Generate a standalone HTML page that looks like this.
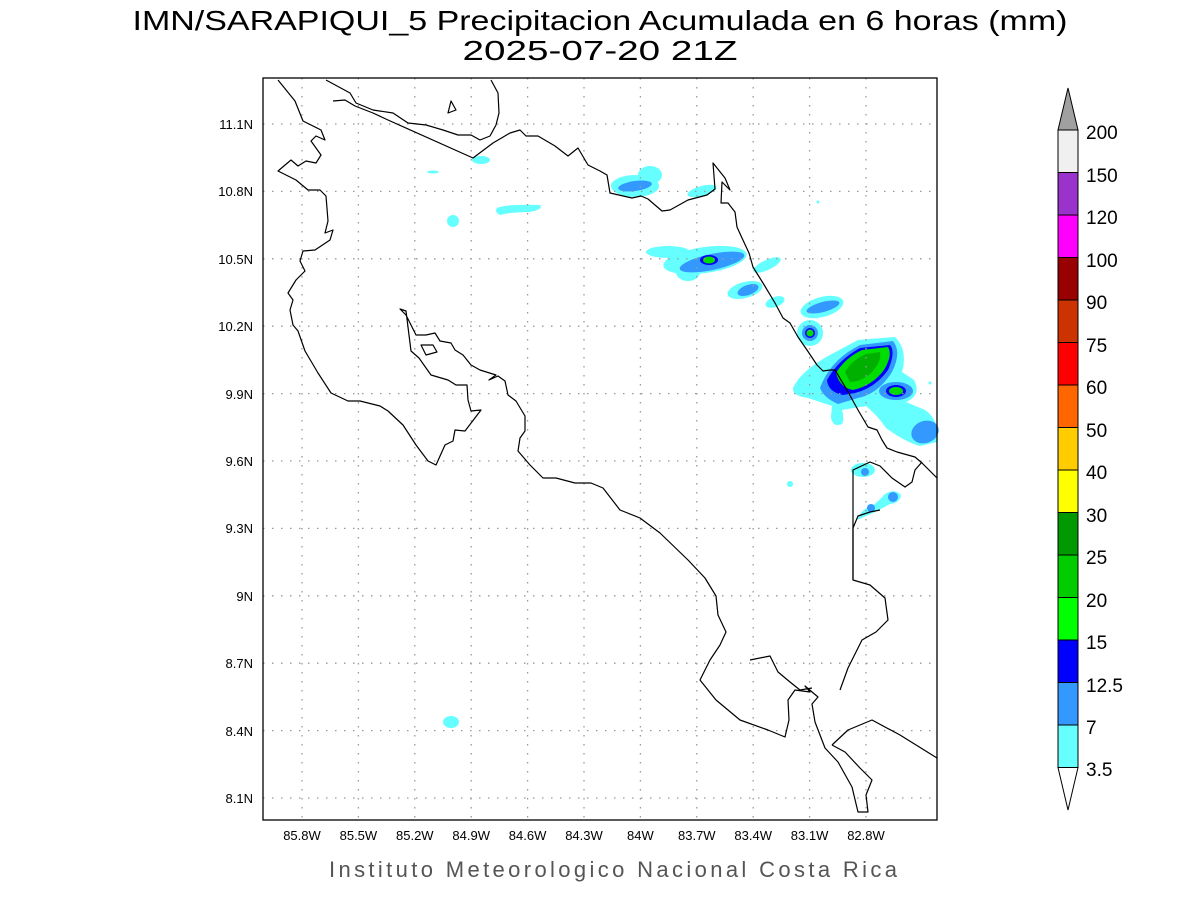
<!DOCTYPE html>
<html><head><meta charset="utf-8"><style>
html,body{margin:0;padding:0;background:#fff;}
svg{display:block;font-family:"Liberation Sans",sans-serif;}
</style></head><body>
<svg width="1200" height="900" viewBox="0 0 1200 900" xmlns="http://www.w3.org/2000/svg">
<rect width="1200" height="900" fill="#fff"/>
<text x="600" y="30" font-size="28" text-anchor="middle" fill="#000" textLength="935" lengthAdjust="spacingAndGlyphs">IMN/SARAPIQUI_5 Precipitacion Acumulada en 6 horas (mm)</text>
<text x="600" y="60" font-size="28" text-anchor="middle" fill="#000" textLength="275" lengthAdjust="spacingAndGlyphs">2025-07-20 21Z</text>

<!-- precip -->
<g>
<g fill="#66ffff">
<path d="M793 388 Q800 372 828 356 L858 340 L895 337 Q908 350 902 372 L914 380 Q922 395 906 402 L925 410 Q940 420 937 442 L920 446 Q905 442 886 428 Q878 416 866 406 L842 410 Q846 428 837 424 Q830 418 832 406 L808 398 Q792 396 793 388Z"/>
<ellipse cx="635" cy="186" rx="24" ry="11"/><ellipse cx="650" cy="175" rx="12" ry="9"/>
<ellipse cx="702" cy="191" rx="15" ry="5" transform="rotate(-15 702 191)"/>
<ellipse cx="668" cy="252" rx="22" ry="6"/><ellipse cx="705" cy="260" rx="42" ry="13" transform="rotate(-8 705 260)"/><ellipse cx="688" cy="272" rx="12" ry="9"/>
<ellipse cx="767" cy="265" rx="15" ry="5" transform="rotate(-25 767 265)"/>
<ellipse cx="745" cy="290" rx="18" ry="8" transform="rotate(-15 745 290)"/>
<ellipse cx="775" cy="302" rx="10" ry="5" transform="rotate(-20 775 302)"/>
<ellipse cx="822" cy="307" rx="22" ry="10" transform="rotate(-15 822 307)"/>
<circle cx="810" cy="333" r="13"/>
<ellipse cx="837" cy="416" rx="6" ry="9"/>
<ellipse cx="863" cy="470" rx="12" ry="7"/>
<circle cx="790" cy="484" r="3"/>
<path d="M857 520 Q862 508 872 506 Q880 500 885 494 Q895 488 901 495 Q900 503 890 504 Q876 512 866 516 Z"/>
<ellipse cx="481" cy="160" rx="9" ry="4"/>
<ellipse cx="433" cy="172" rx="6" ry="1.5"/>
<circle cx="453" cy="221" r="6"/>
<path d="M497 208 Q505 204 540 205 Q544 209 530 212 Q512 212 500 215 Q494 212 497 208Z"/>
<ellipse cx="451" cy="722" rx="8" ry="6"/>
<circle cx="930" cy="383" r="1.5"/><circle cx="818" cy="202" r="1.5"/>
</g>
<g fill="#3399ff">
<ellipse cx="635" cy="186" rx="17" ry="5" transform="rotate(-8 635 186)"/>
<ellipse cx="712" cy="262" rx="33" ry="8" transform="rotate(-12 712 262)"/>
<ellipse cx="748" cy="290" rx="11" ry="5" transform="rotate(-20 748 290)"/>
<ellipse cx="823" cy="307" rx="17" ry="5" transform="rotate(-15 823 307)"/>
<circle cx="810" cy="333" r="8"/>
<path d="M820 388 Q830 360 860 345 L893 341 Q902 352 892 372 Q878 394 858 398 L838 404 Q824 398 820 388Z"/>
<ellipse cx="896" cy="391" rx="17" ry="9"/>
<ellipse cx="925" cy="432" rx="14" ry="11" transform="rotate(-20 925 432)"/>
<circle cx="865" cy="472" r="4"/><circle cx="893" cy="497" r="5"/><circle cx="871" cy="508" r="4"/>
</g>
<g fill="#0000ff">
<ellipse cx="709" cy="260" rx="9" ry="5"/>
<circle cx="810" cy="333" r="5"/>
<path d="M827 380 Q838 360 860 348 L890 345 Q896 352 888 370 Q875 388 855 393 L843 395 Q828 392 827 380Z"/>
<ellipse cx="896" cy="391" rx="10" ry="6"/>
</g>
<g fill="#00dd00">
<ellipse cx="709" cy="260" rx="6" ry="3.5"/>
<circle cx="810" cy="333" r="3.5"/>
<path d="M836 373 Q845 358 862 350 L888 347 Q893 355 884 370 Q872 386 853 390 Q840 388 836 373Z"/>
<ellipse cx="896" cy="391" rx="7" ry="4"/>
</g>
<path d="M845 372 Q852 360 866 354 L880 352 Q882 362 870 374 Q860 382 850 382 Z" fill="#00b000"/>
</g>

<!-- grid -->
<g stroke="#999" stroke-width="1.3" stroke-dasharray="1.5 7.5" fill="none">
<path d="M302 78V820M358.4 78V820M414.8 78V820M471.2 78V820M527.6 78V820M584 78V820M640.4 78V820M696.8 78V820M753.2 78V820M809.6 78V820M866 78V820"/>
<path d="M263 124H937M263 191.4H937M263 258.8H937M263 326.2H937M263 393.6H937M263 461H937M263 528.4H937M263 595.8H937M263 663.2H937M263 730.6H937M263 798H937"/>
</g>

<!-- coastlines -->
<g stroke="#000" stroke-width="1.2" fill="none" stroke-linejoin="round">
<polyline points="278,80 295,101 303,121 321,130 325,140 316,136 311,141 321,155 316,163 306,161 298,166 291,160 278,171 296,180 308,190 320,190 326,196 328,221 325,233 333,230 330,240 315,250 303,251 300,261 305,271 296,280 288,293 293,300 290,310 293,325 298,331 305,351 318,373 331,393 348,401 360,401 380,406 388,411 403,425 416,445 428,461 436,465 445,445 453,441 455,430 465,431 481,410 471,411 468,400 467,385 456,385 448,380 431,375 419,358 411,351 406,311 400,309 406,315 416,335 426,335 435,333 440,341 451,343 455,350 463,355 471,365 480,370 496,375 489,380 498,376 505,381 508,395 516,401 525,416 525,431 520,438 518,451 530,465 543,478 556,478 575,483 591,483 603,488 620,510 640,518 660,533 688,560 705,578 716,596 718,615 726,632 720,645 710,660 700,680 716,700 740,720 768,730 785,737 789,720 788,700 795,690 810,692 805,686 818,697 812,704 815,722 825,748 838,762 852,787 858,812 868,812 866,795 872,780 860,768 845,752 832,745"/>
<polyline points="832,745 848,730 872,720 900,735 937,758"/>
<polyline points="853,480 853,580 870,585 885,598 888,620 876,632 862,640 848,668 840,690"/>
<polyline points="750,660 770,656 778,672 790,682 800,690 812,688"/>
<polygon points="421,345 433,345 437,352 426,355"/>
<polyline points="326,80 350,93 356,103 373,110 393,113 408,123 426,125 443,130 458,135 471,135 480,140 490,136 496,125 499,113 498,93 491,80"/>
<polyline points="333,101 345,100 355,106 373,113 388,120 473,158 493,143 510,133 520,130 526,136 538,136 555,146 568,156 578,148 588,165 600,171 607,175 610,193 632,198 641,196 648,199 662,211 670,210 688,200 707,195 715,189 713,163 725,178 730,190 722,182 721,203 728,203 735,212 737,227 742,238 749,253 753,267 763,283 775,303 783,318 790,323 798,337 807,350 817,365 823,371 830,370 835,370 847,390 858,410 868,427 877,430 882,440 887,448 897,452 915,457 922,463 937,478"/>
<polygon points="448,113 451,101 456,110"/>
<polyline points="853,580 853,528 858,516 870,512 880,510"/>
</g>
<polyline points="853,480 853,470 870,462 880,466 892,478 905,487 912,482 915,470 922,462" stroke="#000" stroke-width="1.2" fill="none"/>

<rect x="263" y="78" width="674" height="742" fill="none" stroke="#000" stroke-width="1.3"/>

<!-- tick labels -->
<g font-size="13" fill="#000" text-anchor="middle">
<text x="302" y="840">85.8W</text><text x="358.4" y="840">85.5W</text><text x="414.8" y="840">85.2W</text><text x="471.2" y="840">84.9W</text><text x="527.6" y="840">84.6W</text><text x="584" y="840">84.3W</text><text x="640.4" y="840">84W</text><text x="696.8" y="840">83.7W</text><text x="753.2" y="840">83.4W</text><text x="809.6" y="840">83.1W</text><text x="866" y="840">82.8W</text>
</g>
<g font-size="13" fill="#000" text-anchor="end">
<text x="253" y="129">11.1N</text><text x="253" y="196">10.8N</text><text x="253" y="264">10.5N</text><text x="253" y="331">10.2N</text><text x="253" y="399">9.9N</text><text x="253" y="466">9.6N</text><text x="253" y="533">9.3N</text><text x="253" y="601">9N</text><text x="253" y="668">8.7N</text><text x="253" y="736">8.4N</text><text x="253" y="803">8.1N</text>
</g>

<text x="613" y="877" font-size="22" text-anchor="middle" fill="#555" textLength="568" lengthAdjust="spacing">Instituto Meteorologico Nacional Costa Rica</text>

<!-- colorbar -->
<g stroke="#000" stroke-width="1">
<polygon points="1058,130 1068,88 1078,130" fill="#a0a0a0"/>
<rect x="1058" y="130" width="20" height="42.5" fill="#f0f0f0"/>
<rect x="1058" y="172.5" width="20" height="42.5" fill="#9933cc"/>
<rect x="1058" y="215" width="20" height="42.5" fill="#ff00ff"/>
<rect x="1058" y="257.5" width="20" height="42.5" fill="#990000"/>
<rect x="1058" y="300" width="20" height="42.5" fill="#cc3300"/>
<rect x="1058" y="342.5" width="20" height="42.5" fill="#ff0000"/>
<rect x="1058" y="385" width="20" height="42.5" fill="#ff6600"/>
<rect x="1058" y="427.5" width="20" height="42.5" fill="#ffcc00"/>
<rect x="1058" y="470" width="20" height="42.5" fill="#ffff00"/>
<rect x="1058" y="512.5" width="20" height="42.5" fill="#009900"/>
<rect x="1058" y="555" width="20" height="42.5" fill="#00cc00"/>
<rect x="1058" y="597.5" width="20" height="42.5" fill="#00ff00"/>
<rect x="1058" y="640" width="20" height="42.5" fill="#0000ff"/>
<rect x="1058" y="682.5" width="20" height="42.5" fill="#3399ff"/>
<rect x="1058" y="725" width="20" height="42.5" fill="#66ffff"/>
<polygon points="1058,767.5 1068,810 1078,767.5" fill="#fff"/>
</g>
<g font-size="19" fill="#000">
<text x="1086" y="139">200</text><text x="1086" y="182">150</text><text x="1086" y="224">120</text><text x="1086" y="267">100</text><text x="1086" y="309">90</text><text x="1086" y="352">75</text><text x="1086" y="394">60</text><text x="1086" y="437">50</text><text x="1086" y="479">40</text><text x="1086" y="522">30</text><text x="1086" y="564">25</text><text x="1086" y="607">20</text><text x="1086" y="649">15</text><text x="1086" y="692">12.5</text><text x="1086" y="734">7</text><text x="1086" y="776">3.5</text>
</g>
</svg>
</body></html>
